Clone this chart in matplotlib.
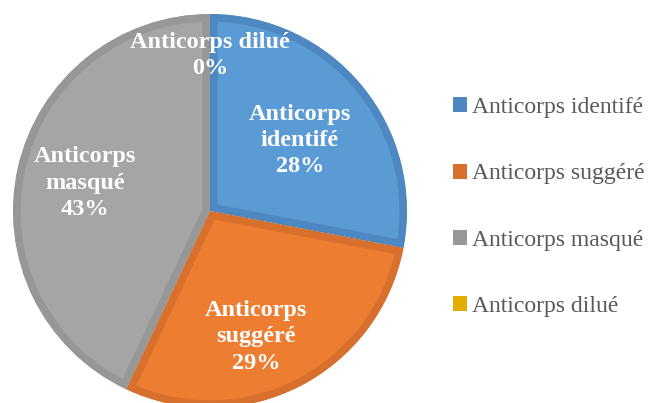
import matplotlib
matplotlib.use("Agg")
import matplotlib.pyplot as plt
import numpy as np
from matplotlib.patches import Patch

categories = ["Anticorps identifé", "Anticorps suggéré", "Anticorps masqué", "Anticorps dilué"]
inner_labels = ["Anticorps\nidentifé", "Anticorps\nsuggéré", "Anticorps\nmasqué", "Anticorps dilué"]
values = [28, 29, 43, 0]
face_colors = ["#5B9BD5", "#ED7D31", "#A5A5A5", "#FFC000"]
edge_colors = ["#4E88C2", "#D6702C", "#979797", "#E5AC00"]
label_radius = [0.58, 0.68, 0.65, 0.79]
label_angle_shift = [-1.5, -7, 0, 0]

plt.rcParams['font.family'] = ['Liberation Serif', 'DejaVu Serif']

fig = plt.figure(figsize=(6.5, 4.03), dpi=100)
W, H = 650, 403
cx, cy, R = 210, 211, 197
ax = fig.add_axes([(cx - R) / W, (H - cy - R) / H, 2 * R / W, 2 * R / H])

wedges, _ = ax.pie(values, colors=face_colors, startangle=90, counterclock=False,
                   radius=1, normalize=True,
                   wedgeprops=dict(linewidth=11, edgecolor="none"))
ax.set_xlim(-1, 1)
ax.set_ylim(-1, 1)
ax.axis("off")
for w, ec in zip(wedges, edge_colors):
    w.set_edgecolor(ec)
    w.set_clip_path(w)
    w.set_clip_on(True)

total = sum(values)
for w, lab, v, r, sh in zip(wedges, inner_labels, values, label_radius, label_angle_shift):
    th = np.deg2rad((w.theta1 + w.theta2) / 2 + sh)
    ax.text(r * np.cos(th), r * np.sin(th), f"{lab}\n{round(100 * v / total)}%",
            ha="center", va="center", color="white", fontweight="bold",
            fontsize=17.5, linespacing=1.32, clip_on=False)

handles = [Patch(facecolor=c, edgecolor="none") for c in edge_colors]
leg = fig.legend(handles, categories, loc="center left",
                 bbox_to_anchor=(453 / W, 1 - 207 / H), frameon=False,
                 fontsize=17, handlelength=0.6, handleheight=0.6,
                 handletextpad=0.2, labelspacing=1.92, borderaxespad=0,
                 borderpad=0)
for t in leg.get_texts():
    t.set_color("#595959")

fig.savefig("out.png", dpi=100)
